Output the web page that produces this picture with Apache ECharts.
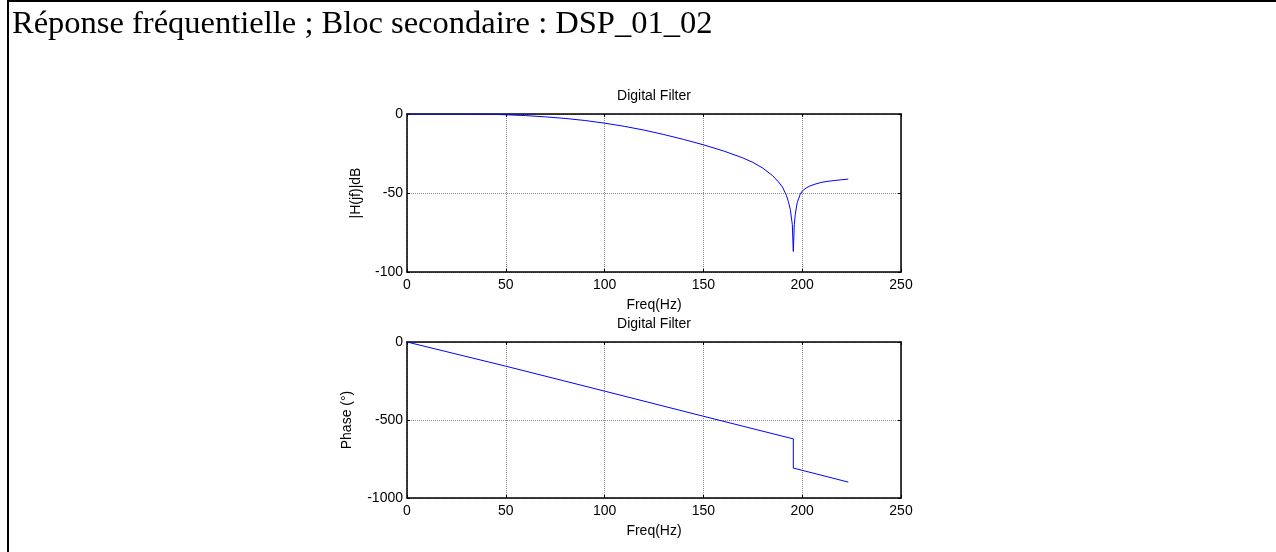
<!DOCTYPE html>
<html>
<head>
<meta charset="utf-8">
<script src="https://cdn.jsdelivr.net/npm/echarts@6/dist/echarts.min.js"></script>
<style>
html, body { margin: 0; padding: 0; background: #fff; }
#frame {
  position: absolute; left: 7px; top: 0; width: 1269px; height: 552px;
  border-left: 2px solid #000; border-top: 2px solid #000; box-sizing: border-box;
}
#chart { position: absolute; left: 0; top: 0; width: 1276px; height: 552px; }
</style>
</head>
<body>
<div id="frame"></div>
<div id="chart"></div>
<script>
// magnitude response
const magFreq = [0, 10, 20, 30, 40, 45, 50, 60, 70, 80, 90, 100, 110, 120, 130, 140, 150, 160, 170, 175, 180, 185, 188, 190, 192, 193, 194, 195, 195.5, 196, 196.5, 197.5, 199, 200, 202, 204, 207, 210, 213, 217, 220, 223.3];
const magDb = [0, 0, 0, 0, -0.1, -0.2, -0.5, -1.0, -1.8, -2.8, -4.1, -5.8, -7.8, -10.2, -13.0, -16.1, -19.5, -23.3, -27.8, -30.6, -34.2, -39.0, -43.0, -46.2, -51.5, -55.4, -60.5, -70, -87, -70, -63.5, -56, -50.8, -48.8, -46.8, -45.5, -44.2, -43.2, -42.6, -42, -41.6, -41.2];

// phase response
const phaseFreq = [0, 50, 100, 150, 195.5, 195.5, 223.3];
const phaseDeg = [0, -155, -315, -476, -621, -808, -898];

const freqTicks = { min: 0, max: 250, interval: 50 };
const magTicks = { min: -100, max: 0, interval: 50 };
const phaseTicks = { min: -1000, max: 0, interval: 500 };

const FONT = 'Liberation Sans, Arial, sans-serif';

function pairs(xs, ys) {
  return xs.map(function (x, i) { return [x, ys[i]]; });
}

const gridLine = { show: true, lineStyle: { color: '#888', type: 'dotted', width: 1 } };
const frameLine = { show: true, onZero: false, lineStyle: { color: '#000', width: 1.5 } };
const inTick = { show: true, inside: true, length: 3, lineStyle: { color: '#000' } };

function mainX(grid) {
  return {
    type: 'value', gridIndex: grid, position: 'bottom',
    min: freqTicks.min, max: freqTicks.max, interval: freqTicks.interval,
    name: 'Freq(Hz)', nameLocation: 'middle', nameGap: 26,
    nameTextStyle: { color: '#000', fontFamily: FONT, fontSize: 14 },
    axisLine: frameLine, axisTick: inTick,
    axisLabel: { color: '#000', fontFamily: FONT, fontSize: 14, margin: 6 },
    splitLine: gridLine
  };
}
function boxX(grid) {
  return {
    type: 'value', gridIndex: grid, position: 'top',
    min: freqTicks.min, max: freqTicks.max, interval: freqTicks.interval,
    axisLine: frameLine, axisTick: inTick,
    axisLabel: { show: false }, splitLine: { show: false }
  };
}
function mainY(grid, t, name, gap) {
  return {
    type: 'value', gridIndex: grid, position: 'left',
    min: t.min, max: t.max, interval: t.interval,
    name: name, nameLocation: 'middle', nameGap: gap,
    nameTextStyle: { color: '#000', fontFamily: FONT, fontSize: 14 },
    axisLine: frameLine, axisTick: inTick,
    axisLabel: { color: '#000', fontFamily: FONT, fontSize: 14, margin: 4, formatter: function (v) { return String(v); } },
    splitLine: gridLine
  };
}
function boxY(grid, t) {
  return {
    type: 'value', gridIndex: grid, position: 'right',
    min: t.min, max: t.max, interval: t.interval,
    axisLine: frameLine, axisTick: inTick,
    axisLabel: { show: false }, splitLine: { show: false }
  };
}

const chart = echarts.init(document.getElementById('chart'), null, { renderer: 'canvas' });
chart.setOption({
  animation: false,
  backgroundColor: 'transparent',
  title: [
    {
      text: 'Réponse fréquentielle ; Bloc secondaire : DSP_01_02',
      left: 12, top: 8, padding: 0,
      textStyle: { fontFamily: 'Liberation Serif, Times New Roman, serif', fontSize: 32.5, fontWeight: 'normal', color: '#000' }
    },
    {
      text: 'Digital Filter', left: 654, top: 89, textAlign: 'center', padding: 0,
      textStyle: { fontFamily: FONT, fontSize: 14, fontWeight: 'normal', color: '#000' }
    },
    {
      text: 'Digital Filter', left: 654, top: 317, textAlign: 'center', padding: 0,
      textStyle: { fontFamily: FONT, fontSize: 14, fontWeight: 'normal', color: '#000' }
    }
  ],
  grid: [
    { left: 407, top: 114, width: 494, height: 158 },
    { left: 407, top: 342, width: 494, height: 156 }
  ],
  xAxis: [mainX(0), boxX(0), mainX(1), boxX(1)],
  yAxis: [
    mainY(0, magTicks, '|H(jf)|dB', 44), boxY(0, magTicks),
    mainY(1, phaseTicks, 'Phase (°)', 53), boxY(1, phaseTicks)
  ],
  series: [
    {
      type: 'line', xAxisIndex: 0, yAxisIndex: 0, showSymbol: false,
      lineStyle: { color: '#0000ff', width: 1 },
      data: pairs(magFreq, magDb)
    },
    {
      type: 'line', xAxisIndex: 2, yAxisIndex: 2, showSymbol: false,
      lineStyle: { color: '#0000ff', width: 1 },
      data: pairs(phaseFreq, phaseDeg)
    }
  ]
});
</script>
</body>
</html>
